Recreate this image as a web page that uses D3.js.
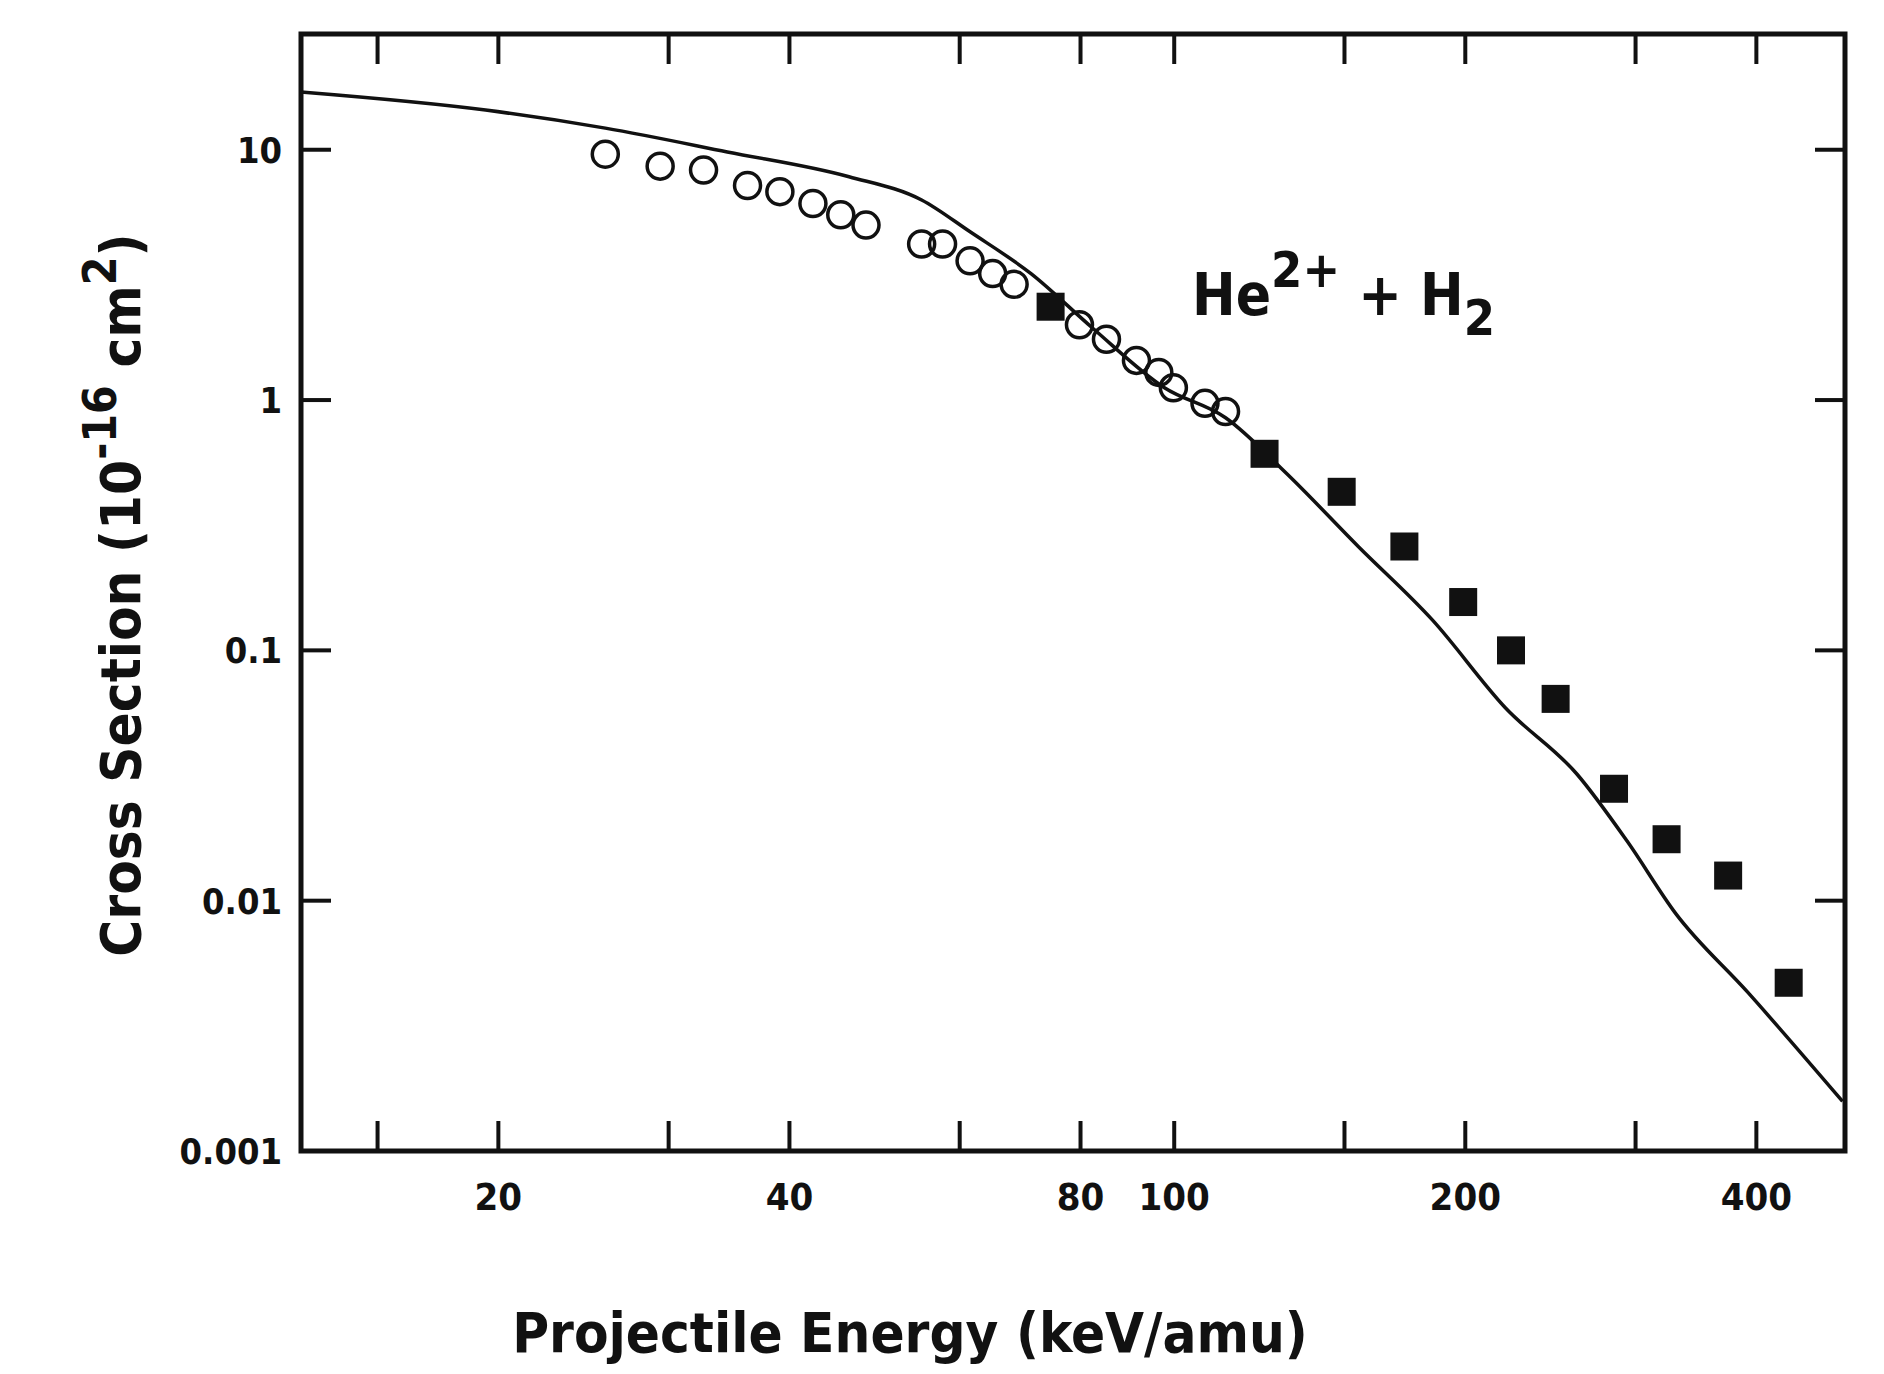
<!DOCTYPE html>
<html><head><meta charset="utf-8">
<script src="https://cdn.jsdelivr.net/npm/d3@7"></script>
<style>
body{margin:0;background:#fff;}
text{font-family:"Liberation Sans Narrow","Arial Narrow","DejaVu Sans Condensed",sans-serif;font-weight:bold;fill:#111;}
</style></head><body>
<svg id="c" width="1884" height="1374"></svg>
<script>
// open circles (energy keV/amu, cross section 1e-16 cm2)
var openE = [25.8, 29.4, 32.6, 36.2, 39.1, 42.3, 45.2, 48.0, 54.8, 57.6, 61.5, 64.9, 68.3, 79.8, 85.1, 91.4, 96.4, 99.8, 107.6, 113];
var openS = [9.6, 8.6, 8.3, 7.2, 6.8, 6.1, 5.5, 5.0, 4.2, 4.2, 3.6, 3.2, 2.9, 2.0, 1.75, 1.44, 1.29, 1.12, 0.97, 0.90];
// filled squares
var fillE = [74.5, 124, 149, 173, 199, 223, 248, 285, 323, 374, 432];
var fillS = [2.36, 0.61, 0.43, 0.26, 0.156, 0.10, 0.064, 0.028, 0.0176, 0.0126, 0.0047];
// theory curve
var lineE = [12.5, 19.4, 25.8, 34.5, 46.1, 54.8, 61.5, 71.1, 82.2, 97.7, 113, 130.6, 155, 185, 220, 261, 294, 330, 392, 491];
var lineS = [17, 14.4, 12.2, 9.8, 7.8, 6.3, 4.7, 3.2, 1.95, 1.12, 0.85, 0.51, 0.26, 0.132, 0.059, 0.032, 0.0173, 0.0089, 0.0043, 0.00158];
var xTicks = [15, 20, 30, 40, 60, 80, 100, 150, 200, 300, 400];
var xLabels = [20, 40, 80, 100, 200, 400];
var yTicks = [10, 1, 0.1, 0.01, 0.001];
var yLabels = ["10", "1", "0.1", "0.01", "0.001"];

var L = 301, R = 1845, T = 34, B = 1151;
var svg = d3.select("#c");
var x = d3.scaleLog().domain([12.5, 494]).range([L, R]);
var y = d3.scaleLog().domain([0.001, 29]).range([B, T]);

// ticks inward on all four sides
var tl = 30;
svg.selectAll(".xb").data(xTicks).join("line")
  .attr("x1", d => x(d)).attr("x2", d => x(d)).attr("y1", B).attr("y2", B - tl)
  .attr("stroke", "#111").attr("stroke-width", 4);
svg.selectAll(".xt").data(xTicks).join("line")
  .attr("x1", d => x(d)).attr("x2", d => x(d)).attr("y1", T).attr("y2", T + tl)
  .attr("stroke", "#111").attr("stroke-width", 4);
svg.selectAll(".yl").data(yTicks).join("line")
  .attr("x1", L).attr("x2", L + tl).attr("y1", d => y(d)).attr("y2", d => y(d))
  .attr("stroke", "#111").attr("stroke-width", 4);
svg.selectAll(".yr").data(yTicks).join("line")
  .attr("x1", R).attr("x2", R - tl).attr("y1", d => y(d)).attr("y2", d => y(d))
  .attr("stroke", "#111").attr("stroke-width", 4);

svg.append("rect").attr("x", L).attr("y", T).attr("width", R - L).attr("height", B - T)
  .attr("fill", "none").attr("stroke", "#111").attr("stroke-width", 5);

svg.selectAll(".xlab").data(xLabels).join("text")
  .attr("x", d => x(d)).attr("y", 1210).attr("text-anchor", "middle")
  .attr("font-size", 38).text(d => d);
svg.selectAll(".ylab").data(yTicks).join("text")
  .attr("x", 282).attr("y", d => y(d) + 13).attr("text-anchor", "end")
  .attr("font-size", 36).text((d, i) => yLabels[i]);

// curve
var line = d3.line().x(d => x(d[0])).y(d => y(d[1])).curve(d3.curveMonotoneX);
svg.append("path").datum(lineE.map((e, i) => [e, lineS[i]]))
  .attr("d", line).attr("fill", "none").attr("stroke", "#111").attr("stroke-width", 3.5);

svg.selectAll(".oc").data(openE).join("circle")
  .attr("cx", d => x(d)).attr("cy", (d, i) => y(openS[i])).attr("r", 13)
  .attr("fill", "none").attr("stroke", "#111").attr("stroke-width", 3.5);

var s = 28;
svg.selectAll(".fs").data(fillE).join("rect")
  .attr("x", d => x(d) - s / 2).attr("y", (d, i) => y(fillS[i]) - s / 2)
  .attr("width", s).attr("height", s).attr("fill", "#111");

// labels
var ann = svg.append("text").attr("x", 1192).attr("y", 315).attr("font-size", 58);
ann.append("tspan").text("He");
ann.append("tspan").attr("dy", -28).attr("font-size", 50).text("2+");
ann.append("tspan").attr("dy", 28).text(" + H");
ann.append("tspan").attr("dy", 20).attr("font-size", 50).text("2");

svg.append("text").attr("x", 910).attr("y", 1352).attr("text-anchor", "middle")
  .attr("font-size", 56).text("Projectile Energy (keV/amu)");

var yt = svg.append("text").attr("transform", "translate(140,595) rotate(-90)")
  .attr("text-anchor", "middle").attr("font-size", 56);
yt.append("tspan").text("Cross Section (10");
yt.append("tspan").attr("dy", -24).attr("font-size", 46).text("-16");
yt.append("tspan").attr("dy", 24).text(" cm");
yt.append("tspan").attr("dy", -24).attr("font-size", 46).text("2");
yt.append("tspan").attr("dy", 24).text(")");
</script></body></html>
